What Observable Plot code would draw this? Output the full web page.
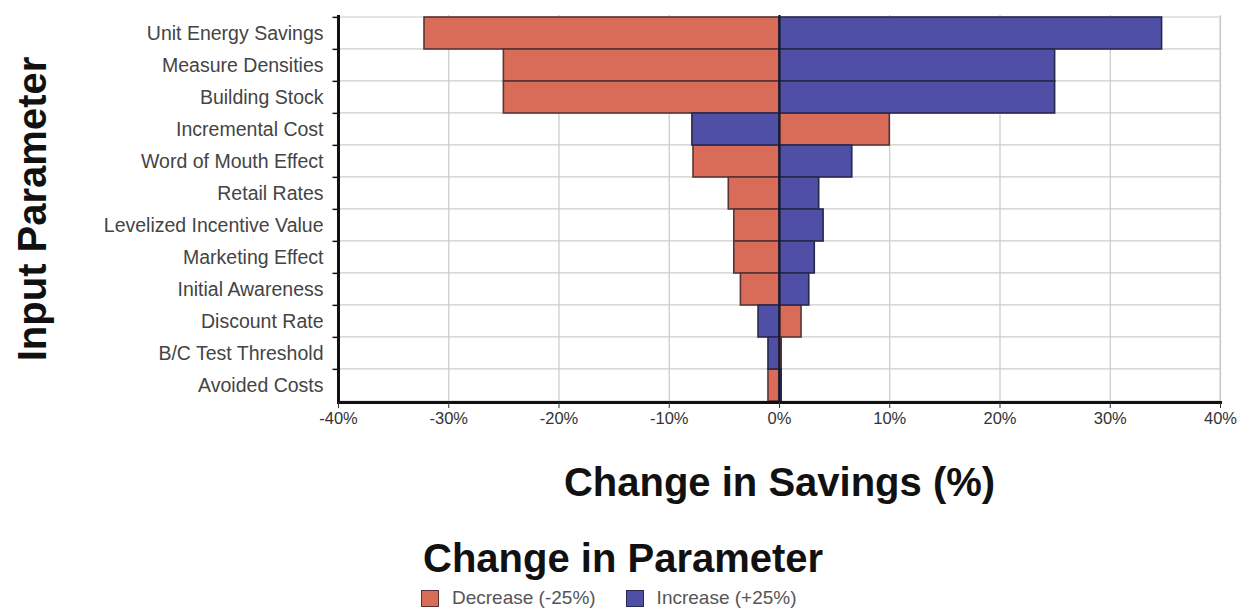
<!DOCTYPE html>
<html>
<head>
<meta charset="utf-8">
<script src="https://cdn.jsdelivr.net/npm/d3@7"></script>
<script src="https://cdn.jsdelivr.net/npm/@observablehq/plot@0.6"></script>
<style>
  html, body { margin: 0; padding: 0; background: white; }
  body { width: 1245px; height: 611px; overflow: hidden; font-family: "Liberation Sans", Arial, sans-serif; }
  #chart { height: 520px; }
  #legendTitle { position: absolute; left: 423px; top: 535px; font-size: 40px; font-weight: bold; line-height: 46px; color: #111; white-space: nowrap; }
  #legend { position: absolute; left: 421px; top: 588px; display: flex; align-items: center; font-size: 19px; color: #555; line-height: 20px; white-space: nowrap; }
  .sw { width: 18px; height: 17px; border: 1.5px solid #4a3a3a; box-sizing: border-box; margin-right: 13px; }
  .item { display: flex; align-items: center; margin-right: 30px; }
</style>
</head>
<body>
<div id="chart"></div>
<div id="legendTitle"></div>
<div id="legend"></div>
<script>
const categories = [
  "Unit Energy Savings", "Measure Densities", "Building Stock", "Incremental Cost",
  "Word of Mouth Effect", "Retail Rates", "Levelized Incentive Value", "Marketing Effect",
  "Initial Awareness", "Discount Rate", "B/C Test Threshold", "Avoided Costs"
];
const decreaseValues = [-32.2, -25, -25, 10.0, -7.8, -4.6, -4.1, -4.1, -3.5, 2.0, 0.2, -1.0];
const increaseValues = [34.7, 25, 25, -7.9, 6.6, 3.6, 4.0, 3.2, 2.7, -1.9, -1.0, 0.2];
const seriesNames = ["Decrease (-25%)", "Increase (+25%)"];
const seriesColors = ["#d86c58", "#4e4fa5"];
const seriesStrokes = ["#5a3434", "#28284e"];
const xTicks = [-40, -30, -20, -10, 0, 10, 20, 30, 40];
const xTitle = "Change in Savings (%)";
const yTitle = "Input Parameter";
const legendTitle = "Change in Parameter";

const decreaseData = categories.map((c, i) => ({cat: c, series: seriesNames[0], value: decreaseValues[i]}));
const increaseData = categories.map((c, i) => ({cat: c, series: seriesNames[1], value: increaseValues[i]}));

const fmt = d => d + "%";
const xMin = xTicks[0], xMax = xTicks[xTicks.length - 1];
const plotTop = 15, plotBottom = 402, svgHeight = 520;
const band = (plotBottom - plotTop) / categories.length;

const chart = Plot.plot({
  width: 1245,
  height: svgHeight,
  marginLeft: 338,
  marginRight: 25,
  marginTop: plotTop,
  marginBottom: svgHeight - plotBottom,
  x: {domain: [xMin, xMax], ticks: xTicks, tickFormat: fmt},
  y: {domain: categories, padding: 0, label: null},
  color: {domain: seriesNames, range: seriesColors},
  style: {fontFamily: "'Liberation Sans', Arial, sans-serif", fontSize: "17px", background: "white"},
  marks: [
    Plot.barX(categories, {y: d => d, x1: xMin, x2: xMax, fill: "white", stroke: "#d2d2d2", strokeWidth: 1.2}),
    Plot.gridX(xTicks, {stroke: "#c9c9c9", strokeOpacity: 1, strokeWidth: 1.2}),
    Plot.barX(decreaseData, {y: "cat", x1: 0, x2: "value", fill: "series", stroke: seriesStrokes[0], strokeWidth: 1.6}),
    Plot.barX(increaseData, {y: "cat", x1: 0, x2: "value", fill: "series", stroke: seriesStrokes[1], strokeWidth: 1.6}),
    Plot.ruleX([0], {stroke: "#1c1a2a", strokeWidth: 2.2}),
    Plot.ruleX([xMin], {stroke: "#111", strokeWidth: 3}),
    Plot.ruleY(categories, {y: d => d, dy: -band / 2, x1: xMin - 0.5, x2: xMin, stroke: "#111", strokeWidth: 1.5}),
    Plot.frame({anchor: "bottom", stroke: "#111", strokeWidth: 3}),
    Plot.axisX({ticks: xTicks, tickFormat: fmt, tickSize: 6, tickPadding: 4, color: "#333", label: null, fontSize: 16.5}),
    Plot.axisY({tickSize: 0, tickPadding: 15, label: null, color: "#444", fontSize: 19.5}),
    Plot.text([xTitle], {frameAnchor: "bottom", dy: 93, fontSize: 40, fontWeight: "bold", fill: "#111"}),
    Plot.text([yTitle], {frameAnchor: "left", dx: -305, rotate: -90, textAnchor: "middle", fontSize: 40, fontWeight: "bold", fill: "#111"})
  ]
});
document.getElementById("chart").append(chart);

document.getElementById("legendTitle").textContent = legendTitle;
const leg = document.getElementById("legend");
seriesNames.forEach((name, i) => {
  const item = document.createElement("div");
  item.className = "item";
  const sw = document.createElement("div");
  sw.className = "sw";
  sw.style.background = seriesColors[i];
  sw.style.borderColor = seriesStrokes[i];
  const lab = document.createElement("span");
  lab.textContent = name;
  item.append(sw, lab);
  leg.append(item);
});
</script>
</body>
</html>
